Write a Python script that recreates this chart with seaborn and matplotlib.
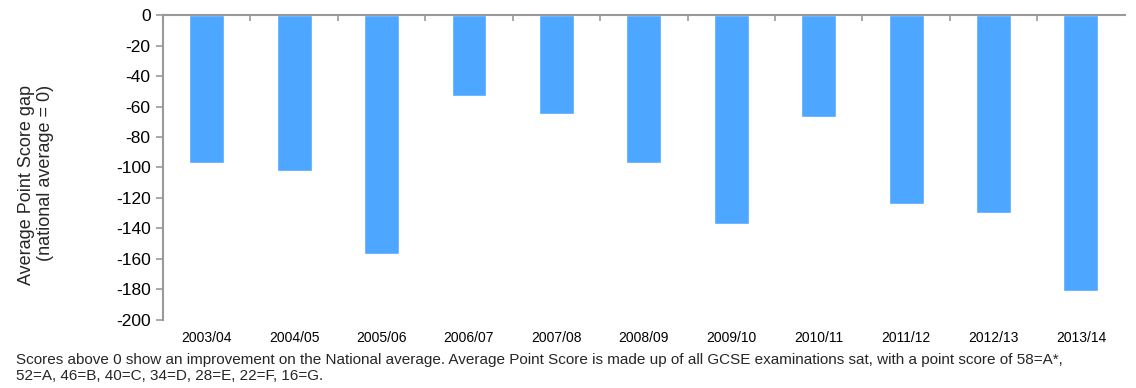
import matplotlib
matplotlib.use("Agg")
import matplotlib.pyplot as plt
import seaborn as sns
import pandas as pd
import numpy as np

years = ["2003/04", "2004/05", "2005/06", "2006/07", "2007/08", "2008/09",
         "2009/10", "2010/11", "2011/12", "2012/13", "2013/14"]
gap = [-97, -102, -157, -53, -65, -97, -137, -67, -124, -130, -181]
y_ticks = list(range(0, -201, -20))

sns.set_theme(style="white")
plt.rcParams["font.family"] = ["Liberation Sans", "DejaVu Sans"]
plt.rcParams["axes.unicode_minus"] = False

df = pd.DataFrame({"year": years, "gap": gap})

fig = plt.figure(figsize=(11.36, 3.88), dpi=100)
ax = fig.add_axes([0.1435, 0.1753, 0.8465, 0.786])

sns.barplot(data=df, x="year", y="gap", color="#4DA6FF", saturation=1,
            width=0.4, ax=ax)

ax.set_ylim(-200, 0)
ax.set_xlim(-0.5, len(years) - 0.5)
ax.set_yticks(y_ticks)
ax.set_yticklabels([str(t) for t in y_ticks], fontsize=12.5)
ax.tick_params(axis="y", direction="out", length=5, width=1.2,
               color="#999999", left=True, pad=4, labelcolor="black")
ax.tick_params(axis="x", bottom=False, labelsize=10, pad=2, labelcolor="black")

# zero axis line along the top with category divider ticks
for side in ["right", "bottom"]:
    ax.spines[side].set_visible(False)
for side in ["left", "top"]:
    ax.spines[side].set_color("#999999")
    ax.spines[side].set_linewidth(1.5)
boundaries = np.arange(0.5, len(years) - 1, 1.0)
ax.set_xticks(boundaries, minor=True)
ax.tick_params(axis="x", which="minor", top=True, bottom=False,
               direction="in", length=4, width=1.2, color="#999999")

ax.set_xlabel("")
ax.set_ylabel("")
fig.text(36 / 1136, 1 - 185 / 388,
         "Average Point Score gap\n(national average = 0)",
         rotation=90, fontsize=13, ha="center", va="center",
         multialignment="right", linespacing=1.1)

fig.text(0.014, 1 - 353 / 388,
         "Scores above 0 show an improvement on the National average. Average Point Score is made up of all GCSE examinations sat, with a point score of 58=A*,\n"
         "52=A, 46=B, 40=C, 34=D, 28=E, 22=F, 16=G.",
         fontsize=11, ha="left", va="top", linespacing=1.2)

fig.savefig("out.png", dpi=100)
